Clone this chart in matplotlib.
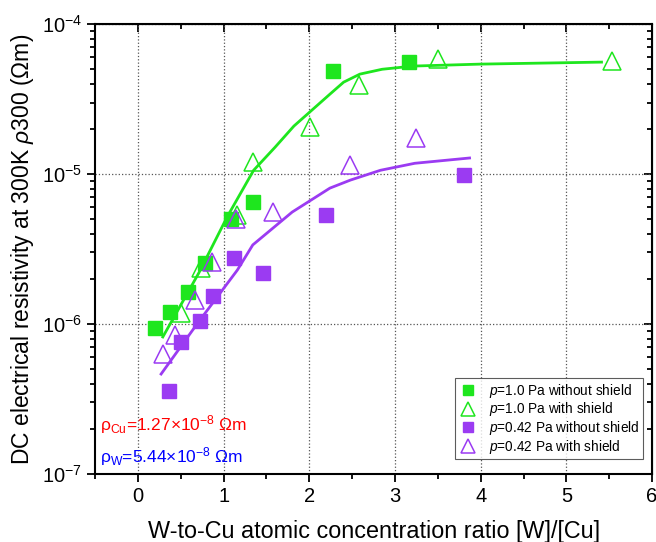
import matplotlib
matplotlib.use('Agg')
import matplotlib.pyplot as plt
from matplotlib.ticker import LogLocator, MultipleLocator, NullFormatter

plt.rcParams['font.family'] = ['Liberation Sans', 'DejaVu Sans']
plt.rcParams['mathtext.fontset'] = 'custom'
plt.rcParams['mathtext.rm'] = 'Liberation Sans'
plt.rcParams['mathtext.it'] = 'Liberation Sans:italic'

# p=1.0 Pa without shield
g_sq_x = [0.20, 0.37, 0.58, 0.78, 1.09, 1.34, 2.28, 3.16]
g_sq_y = [9.4e-7, 1.2e-6, 1.63e-6, 2.55e-6, 5.0e-6, 6.5e-6, 4.86e-5, 5.58e-5]
# p=1.0 Pa with shield
g_tr_x = [0.50, 0.74, 1.16, 1.34, 2.01, 2.58, 3.50, 5.53]
g_tr_y = [1.18e-6, 2.36e-6, 5.33e-6, 1.2e-5, 2.06e-5, 3.92e-5, 5.85e-5, 5.67e-5]
# p=0.42 Pa without shield
p_sq_x = [0.36, 0.50, 0.72, 0.88, 1.12, 1.46, 2.19, 3.80]
p_sq_y = [3.6e-7, 7.6e-7, 1.05e-6, 1.54e-6, 2.75e-6, 2.19e-6, 5.33e-6, 9.85e-6]
# p=0.42 Pa with shield
p_tr_x = [0.29, 0.43, 0.67, 0.86, 1.15, 1.58, 2.47, 3.24]
p_tr_y = [6.3e-7, 8.45e-7, 1.45e-6, 2.59e-6, 5.0e-6, 5.58e-6, 1.15e-5, 1.74e-5]

# guide curves
g_line_x = [0.29, 0.71, 1.04, 1.35, 1.60, 1.82, 2.24, 2.40, 2.59, 2.85, 3.21, 3.99, 5.41]
g_line_y = [8.2e-7, 2.19e-6, 5.17e-6, 1.06e-5, 1.51e-5, 2.09e-5, 3.41e-5, 4.1e-5,
            4.64e-5, 5.0e-5, 5.25e-5, 5.41e-5, 5.58e-5]
p_line_x = [0.27, 0.70, 1.16, 1.34, 1.80, 2.24, 2.48, 2.83, 3.23, 3.87]
p_line_y = [4.64e-7, 1.02e-6, 2.29e-6, 3.37e-6, 5.58e-6, 8.06e-6, 9.12e-6, 1.06e-5,
            1.18e-5, 1.28e-5]

green = '#1EE61E'
purple = '#9B3BF2'

fig = plt.figure(figsize=(6.56, 5.42), dpi=100)
ax = fig.add_axes([0.145, 0.1255, 0.849, 0.830])

ax.plot(g_line_x, g_line_y, color=green, lw=2, zorder=2)
ax.plot(p_line_x, p_line_y, color=purple, lw=2, zorder=2)

ax.plot(g_sq_x, g_sq_y, 's', color=green, ms=9.5, ls='none',
        label=r'$\it{p}$=1.0 Pa without shield', zorder=3)
ax.plot(g_tr_x, g_tr_y, '^', mfc='none', mec=green, ms=13, mew=1.1, ls='none',
        label=r'$\it{p}$=1.0 Pa with shield', zorder=3)
ax.plot(p_sq_x, p_sq_y, 's', color=purple, ms=9.5, ls='none',
        label=r'$\it{p}$=0.42 Pa without shield', zorder=3)
ax.plot(p_tr_x, p_tr_y, '^', mfc='none', mec=purple, ms=13, mew=1.1, ls='none',
        label=r'$\it{p}$=0.42 Pa with shield', zorder=3)

ax.set_yscale('log')
ax.set_xlim(-0.5, 6)
ax.set_ylim(1e-7, 1e-4)
ax.xaxis.set_major_locator(MultipleLocator(1))
ax.xaxis.set_minor_locator(MultipleLocator(0.5))
ax.yaxis.set_major_locator(LogLocator(base=10, numticks=10))
ax.yaxis.set_minor_locator(LogLocator(base=10, subs=range(2, 10), numticks=20))
ax.yaxis.set_minor_formatter(NullFormatter())

ax.grid(True, which='major', ls=':', color='#555555', lw=0.9)
for s in ax.spines.values():
    s.set_linewidth(1.5)
ax.tick_params(which='both', direction='out', labelsize=14.5, width=1.3)
ax.tick_params(which='major', length=6)
ax.tick_params(which='minor', length=3.5)

# mirrored inward ticks on top and right
sec_x = ax.secondary_xaxis('top')
sec_x.xaxis.set_major_locator(MultipleLocator(1))
sec_x.xaxis.set_minor_locator(MultipleLocator(0.5))
sec_x.tick_params(which='both', direction='in', labeltop=False, width=1.3)
sec_x.tick_params(which='major', length=6)
sec_x.tick_params(which='minor', length=3.5)
sec_y = ax.secondary_yaxis('right')
sec_y.set_yscale('log')
sec_y.yaxis.set_major_locator(LogLocator(base=10, numticks=10))
sec_y.yaxis.set_minor_locator(LogLocator(base=10, subs=range(2, 10), numticks=20))
sec_y.tick_params(which='both', direction='in', labelright=False, width=1.3)
sec_y.tick_params(which='major', length=6)
sec_y.tick_params(which='minor', length=3.5)

ax.set_xlabel('W-to-Cu atomic concentration ratio [W]/[Cu]', fontsize=16.8, labelpad=10)
ax.set_ylabel(r'DC electrical resistivity at 300K $\it{\rho 300}$ ($\Omega$m)',
              fontsize=16.5, labelpad=4)

ax.text(0.008, 0.11, r'ρ$_{\rm Cu}$=1.27×10$^{-8}$ $\Omega$m', transform=ax.transAxes,
        color='red', fontsize=12.5, va='center')
ax.text(0.008, 0.038, r'ρ$_{\rm W}$=5.44×10$^{-8}$ $\Omega$m', transform=ax.transAxes,
        color='blue', fontsize=12.5, va='center')

leg = ax.legend(loc='lower right', bbox_to_anchor=(0.984, 0.033), borderaxespad=0,
                fontsize=9.8, markerscale=0.8,
                frameon=True, fancybox=False, edgecolor='#333333',
                handletextpad=0.8, labelspacing=0.05, borderpad=0.25, handlelength=1.5)
leg.get_frame().set_linewidth(0.8)

fig.savefig('out.png', dpi=100)
